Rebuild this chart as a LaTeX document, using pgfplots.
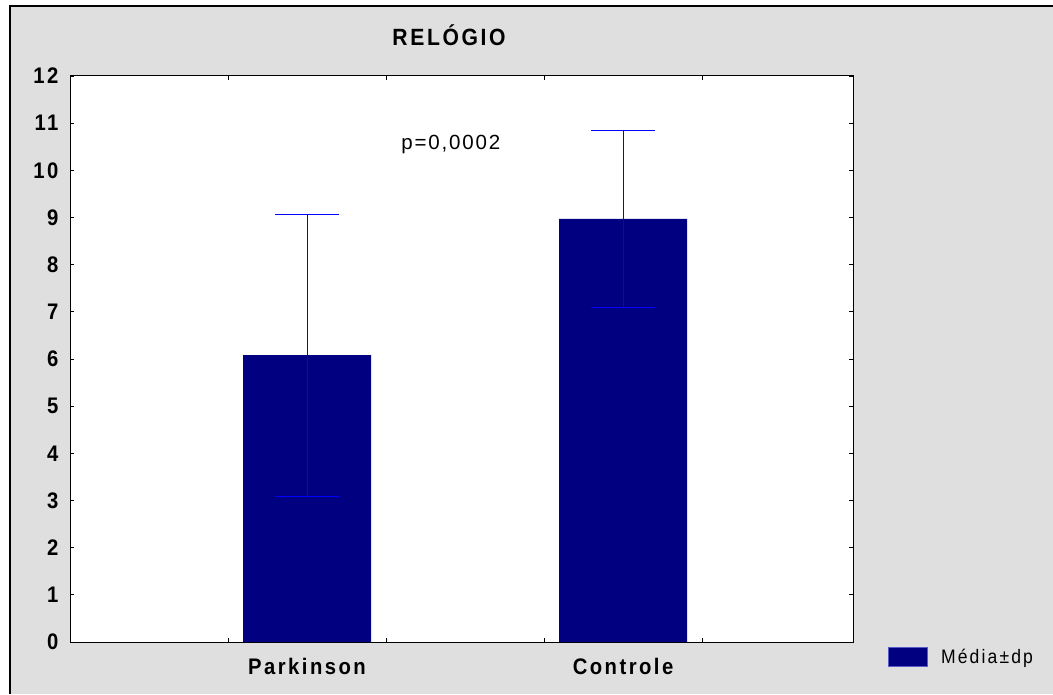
\documentclass[border=0pt]{standalone}
\usepackage{fontspec}
\usepackage{pgfplots}
\pgfplotsset{compat=1.18}
\newfontfamily\chartfont[FakeStretch=0.9, LetterSpace=11]{Liberation Sans}
\newfontfamily\notefont[LetterSpace=9]{Liberation Sans}
\definecolor{bggray}{RGB}{223,223,223}
\definecolor{barnavy}{RGB}{0,0,128}
\definecolor{errblue}{RGB}{0,0,255}
\begin{document}
\begin{tikzpicture}[x=1pt,y=1pt]
\path[use as bounding box] (0,0) rectangle (1053,694);
\fill[white] (0,0) rectangle (1053,694);
\fill[bggray] (9.5,0) rectangle (1053,687.5);
\draw[line width=2pt] (9.5,0) -- (9.5,687.5) -- (1053,687.5);
\node[font=\chartfont\bfseries\fontsize{23.5}{28}\selectfont] at (449,659) {RELÓGIO};
\begin{axis}[
  at={(70pt,52pt)}, anchor=south west,
  scale only axis, width=783pt, height=566pt,
  xmin=0, xmax=4.955, ymin=0, ymax=12,
  axis background/.style={fill=white},
  axis line style={black, line width=1pt},
  tick style={black, line width=0.8pt},
  major tick length=4pt,
  tick align=inside,
  xtick={1,2,3,4}, xticklabels={},
  extra x ticks={1.5,3.5},
  extra x tick labels={Parkinson,Controle},
  extra x tick style={major tick length=0pt,
    xticklabel style={anchor=base, yshift=-32pt}},
  ytick={0,...,12},
  /pgf/number format/assume math mode=true,
  ticklabel style={font=\chartfont\bfseries\fontsize{22.5}{27}\selectfont},
  yticklabel style={xshift=-8pt},
  legend style={at={(1.045,-0.027)}, anchor=west, draw=none, fill=none,
    font=\chartfont\fontsize{19.5}{23}\selectfont, inner sep=0pt,
    nodes={inner sep=0pt},
    /tikz/every odd column/.append style={column sep=13pt}},
  legend image code/.code={\fill[barnavy, draw={rgb,255:red,90;green,90;blue,200}, line width=0.6pt] (0pt,-9.5pt) rectangle (39pt,9.5pt);},
]
\addplot[ybar, bar width=128pt, fill=barnavy, draw=none,
  error bars/.cd, y dir=both, y explicit,
  error bar style={errblue, line width=1pt},
  error mark options={rotate=90, mark size=32pt, errblue, line width=1pt}]
  coordinates {(1.5,6.08) +- (0,2.99) (3.5,8.97) +- (0,1.88)};
\addlegendentry{Média±dp}
\node[font=\notefont\fontsize{20.5}{25}\selectfont] at (axis cs:2.41,10.54) {p=0,0002};
\end{axis}
\end{tikzpicture}
\end{document}
